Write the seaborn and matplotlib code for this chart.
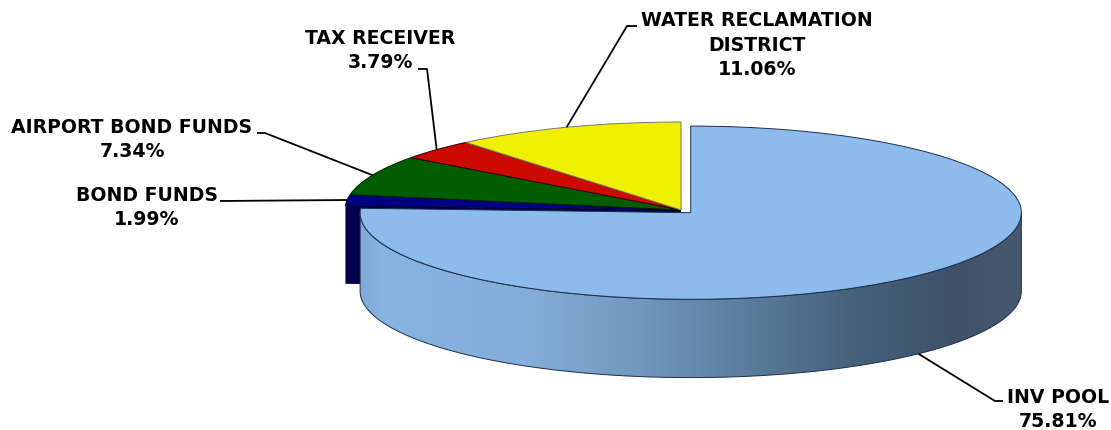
# -*- coding: utf-8 -*-
import numpy as np
import seaborn as sns
import matplotlib
matplotlib.use("Agg")
import matplotlib.pyplot as plt
from matplotlib.colors import LinearSegmentedColormap
from matplotlib.patches import Polygon

# Datos
categorias = ["INV POOL", "BOND FUNDS", "AIRPORT BOND FUNDS", "TAX RECEIVER", "WATER RECLAMATION\nDISTRICT"]
valores = [75.81, 1.99, 7.34, 3.79, 11.06]
colores = ["#8cbbec", "#000085", "#005e00", "#cc0a00", "#f0f000"]
bordes = ["#1c2f4a", "#000030", "#002000", "#300000", "#777777"]
separacion = [0.042, 0, 0, 0, 0]

# Escala de la elipse en pixeles
W, H = 1111, 431
cx, cy, rx, ry = 681, 211, 336, 88
fondo = 0.89  # altura del lateral en unidades de ry

sns.set_theme(style="white")
plt.rcParams["font.family"] = ["DejaVu Sans"]

fig = plt.figure(figsize=(W / 100, H / 100), dpi=100, facecolor="white")
ax = fig.add_axes([0, 0, 1, 1])

wedges, _ = ax.pie(valores, colors=colores, explode=separacion, startangle=90, counterclock=False,
                   wedgeprops={"linewidth": 0.7})
for w, b in zip(wedges, bordes):
    w.set_edgecolor(b)
    w.set_zorder(5)
# La porcion grande es algo menor que el resto
wedges[0].set_radius(0.984)


def px(x, y):
    return (x - cx) / rx, (cy - y) / ry


def borde(w, ang):
    a = np.radians(ang)
    return w.center[0] + w.r * np.cos(a), w.center[1] + w.r * np.sin(a)


# Lateral de BOND FUNDS
azul = wedges[1]
p = borde(azul, wedges[0].theta1)
ax.add_patch(Polygon([p, (p[0], p[1] - fondo), (0, -fondo), (0, 0)], closed=True,
                     facecolor="#00004d", edgecolor="none", zorder=1))

# Lateral de INV POOL con degradado
grande = wedges[0]
angs = np.linspace(180, 360, 200)
arriba = np.array([borde(grande, a) for a in angs])
abajo = arriba - np.array([0, fondo])
lateral = Polygon(np.vstack([arriba, abajo[::-1]]), closed=True, facecolor="none",
                  edgecolor="#1c2f4a", linewidth=0.7, zorder=3)
ax.add_patch(lateral)
cmap = LinearSegmentedColormap.from_list("lateral", [
    (0.00, "#7fa9d8"), (0.03, "#88b4e2"), (0.25, "#84aed9"), (0.42, "#7298bf"),
    (0.60, "#587a9a"), (0.75, "#46607a"), (0.90, "#3f5269"), (1.00, "#46596f")])
grad = np.linspace(0, 1, 256).reshape(1, -1)
img = ax.imshow(grad, cmap=cmap, aspect="auto", zorder=2,
                extent=[arriba[:, 0].min(), arriba[:, 0].max(), abajo[:, 1].min(), arriba[:, 1].max()])
img.set_clip_path(lateral)

ax.set_aspect("auto")
ax.set_xlim(px(0, 0)[0], px(W, 0)[0])
ax.set_ylim(px(0, H)[1], px(0, 0)[1])

# Etiquetas: centro x, y de la primera linea y codo/final de la guia
etiquetas = [
    (1058, 397, [(995, 402), (1003, 402)]),
    (147, 195, [(220, 202)]),
    (132, 127, [(265, 134), (257, 134)]),
    (380, 38, [(427, 70), (418, 70)]),
    (757, 20, [(627, 27), (637, 27)]),
]
for i, (w, nombre, valor, (tx, ty, guia)) in enumerate(zip(wedges, categorias, valores, etiquetas)):
    medio = (w.theta1 + w.theta2) / 2
    ini = borde(w, medio)
    if i == 0:
        ini = (ini[0], ini[1] - fondo)
    puntos = [ini] + [px(*g) for g in guia]
    ax.plot([q[0] for q in puntos], [q[1] for q in puntos], color="black", lw=1.3, zorder=6, solid_capstyle="butt")
    ax.text(*px(tx, ty + 12.5 * (nombre.count("\n") + 1)), f"{nombre}\n{valor:.2f}%", ha="center", va="center",
            fontsize=13.6, fontweight="bold", color="black", linespacing=1.37)

fig.savefig("out.png", dpi=100)
